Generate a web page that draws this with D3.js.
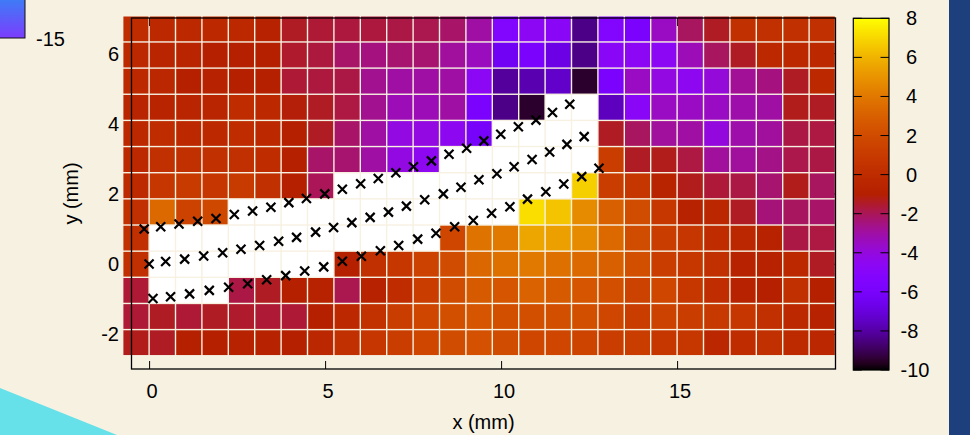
<!DOCTYPE html>
<html>
<head>
<meta charset="utf-8">
<script src="https://cdn.jsdelivr.net/npm/d3@7"></script>
<style>
  body { margin: 0; background: #f7f1e2; }
  svg text { font-family: "Liberation Sans", Arial, Helvetica, sans-serif; font-size: 20px; fill: #000; }
</style>
</head>
<body>
<div id="chart"></div>
<script>
// cell centres (mm)
var xCenters = [-0.375, 0.375, 1.125, 1.875, 2.625, 3.375, 4.125, 4.875, 5.625, 6.375, 7.125, 7.875, 8.625, 9.375,
  10.125, 10.875, 11.625, 12.375, 13.125, 13.875, 14.625, 15.375, 16.125, 16.875, 17.625, 18.375, 19.125]
var yCenters = [6.69, 5.945, 5.2, 4.455, 3.71, 2.965, 2.22, 1.475, 0.73, -0.015, -0.76, -1.505, -2.25]
var cellW = 0.75
var cellH = 0.745

// field values, top row first, null = no data
var values = [
  [0, -0.2, -0.2, -0.2, -0.2, -0.7, -1.4, -1.6, -1.7, -1.7, -1.8, -1.9, -2.2, -3.0, -5.3, -4.6, -4.8, -8.4, -5.3, -5.8, -3.5, -2.1, -1.4, 0.3, 0.3, 0.3, 0.3],
  [-0.2, -0.5, -0.5, -0.9, -1.0, -1.0, -1.5, -1.7, -2.2, -2.5, -2.3, -2.3, -2.9, -3.4, -6.4, -5.8, -6.8, -8.4, -4.8, -4.6, -4.6, -3.3, -2.1, -1.4, -0.2, -0.2, -0.2],
  [-0.2, -0.4, -0.9, -0.7, -1.0, -1.0, -1.6, -1.7, -1.8, -2.7, -3.0, -3.0, -3.0, -4.6, -8.1, -7.8, -7.4, -9.5, -5.8, -3.5, -4.1, -4.5, -3.9, -2.8, -2.5, -1.4, -0.2],
  [-0.5, -0.6, -0.5, -0.5, 0, -0.2, -1.1, -1.4, -1.75, -2.7, -3.3, -3.3, -3.0, -5.8, -8.4, -9.5, null, null, -7.6, -4.8, -3.5, -3.5, -3.5, -3.1, -3.0, -1.3, -1.4],
  [-0.2, 0, -0.2, -0.2, 0, -0.2, -1.0, -1.4, -2.2, -3.0, -4.1, -4.1, -4.5, -6.0, null, null, null, null, -1.4, -2.1, -2.9, -3.0, -4.0, -3.1, -2.9, -1.8, -1.75],
  [-0.2, 0.3, 0.3, 0.3, 0.3, 0, -1.0, -2.2, -2.3, -3.0, -4.1, -4.5, null, null, null, null, null, null, 1.2, -1.4, -1.3, -1.75, -2.9, -2.9, -2.6, -1.85, -1.8],
  [-0.1, 0.7, 1.0, 0.7, 1.0, 0.3, -1.0, -2.0, null, null, null, null, null, null, null, null, null, 6.8, 1.2, 0.7, -0.6, -1.3, -1.65, -1.8, -2.3, -1.3, -2.1],
  [0.3, 3.4, 1.5, 1.8, null, null, null, null, null, null, null, null, null, null, null, 7.2, 6.5, 4.7, 3.0, 2.0, 0.8, -0.7, -0.4, -1.4, -2.4, -2.1, -2.2],
  [0.3, null, null, null, null, null, null, null, null, null, null, null, 1.7, 3.8, 4.0, 5.6, 5.4, 4.7, 3.4, 2.0, 1.2, 0.7, 0, -0.4, -0.7, -1.8, -1.75],
  [0.3, null, null, null, null, null, null, null, -1.0, 0.3, 0.8, 1.5, 2.0, 3.3, 3.7, 4.0, 3.7, 3.4, 3.0, 2.2, 1.2, 0.8, 0.3, -0.7, -0.7, -0.2, -1.4],
  [-1.6, null, null, null, -1.8, -1.4, -1.0, -0.7, -1.9, -0.7, 0, 1.2, 2.0, 2.7, 2.5, 3.1, 2.7, 2.5, 2.2, 1.5, 1.7, 0.8, 0.1, -0.7, -1.0, 0.3, -1.0],
  [-1.6, -1.4, -1.6, -1.4, -1.5, -1.6, -1.6, -1.0, -0.2, 0.4, 1.2, 1.7, 2.2, 2.5, 2.2, 2.2, 2.2, 2.2, 1.7, 1.2, 1.5, 1.2, 0.9, 0.7, 0.3, -0.2, -0.7],
  [-1.3, -1.4, -1.0, -1.0, -0.7, -0.7, -1.0, -0.4, 0.3, 0.7, 1.2, 1.7, 2.0, 2.3, 2.0, 1.7, 1.7, 1.6, 1.2, 1.2, 0.8, 0.8, -0.4, 0, 0.3, -0.1, -0.4]
]

// measured points (mm)
var topX = [-0.14, 0.33, 0.85, 1.38, 1.9, 2.42, 2.94, 3.46, 3.97, 4.47, 4.99, 5.49, 6.01, 6.51, 7.01, 7.51, 8.02, 8.52, 9.02, 9.51, 9.99, 10.49, 10.99, 11.46, 11.95]
var topY = [0.99, 1.05, 1.13, 1.21, 1.29, 1.4, 1.5, 1.61, 1.74, 1.86, 1.99, 2.12, 2.28, 2.43, 2.59, 2.76, 2.93, 3.12, 3.29, 3.5, 3.69, 3.9, 4.09, 4.31, 4.54]
var midX = [0, 0.47, 1.01, 1.55, 2.09, 2.61, 3.14, 3.68, 4.19, 4.73, 5.24, 5.76, 6.28, 6.8, 7.31, 7.83, 8.36, 8.86, 9.37, 9.88, 10.37, 10.88, 11.38, 11.87, 12.36]
var midY = [-0.01, 0.06, 0.13, 0.22, 0.31, 0.41, 0.52, 0.64, 0.75, 0.9, 1.03, 1.17, 1.32, 1.47, 1.64, 1.82, 1.99, 2.18, 2.39, 2.56, 2.76, 2.97, 3.18, 3.4, 3.62]
var botX = [0.11, 0.61, 1.15, 1.71, 2.26, 2.8, 3.34, 3.88, 4.42, 4.96, 5.49, 6.03, 6.57, 7.09, 7.63, 8.15, 8.68, 9.21, 9.73, 10.25, 10.75, 11.27, 11.78, 12.29, 12.78]
var botY = [-0.99, -0.94, -0.86, -0.76, -0.67, -0.57, -0.46, -0.34, -0.21, -0.09, 0.07, 0.21, 0.37, 0.52, 0.7, 0.87, 1.05, 1.23, 1.44, 1.62, 1.84, 2.05, 2.27, 2.48, 2.72]

var xTicks = [0, 5, 10, 15]
var yTicks = [-2, 0, 2, 4, 6]
var cbTicks = [-10, -8, -6, -4, -2, 0, 2, 4, 6, 8]

var width = 970
var height = 435
var plot = { left: 131.5, right: 835.5, top: 18, bottom: 369 }

var svg = d3.select('#chart')
  .append('svg')
  .attr('width', width)
  .attr('height', height)

svg.append('rect').attr('width', width).attr('height', height).attr('fill', '#f7f1e2')

// gnuplot default palette (rgbformulae 7,5,15)
function palette (t) {
  var r = Math.sqrt(t)
  var g = Math.pow(t, 3)
  var b = Math.max(0, Math.sin(2 * Math.PI * t))
  return d3.rgb(r * 255, g * 255, b * 255).toString()
}

var x = d3.scaleLinear().domain([-0.5, 19.5]).range([plot.left, plot.right])
var y = d3.scaleLinear().domain([-3, 7]).range([plot.bottom, plot.top])
var color = d3.scaleSequential(palette).domain([-10, 8])

// page decorations around the figure
svg.append('path')
  .attr('d', 'M0,388L117,435L0,435Z')
  .attr('fill', '#67e1e9')
svg.append('rect')
  .attr('x', 949).attr('y', 0)
  .attr('width', 21).attr('height', height)
  .attr('fill', '#1d3f7b')

var defs = svg.append('defs')
var oldGrad = defs.append('linearGradient')
  .attr('id', 'old-grad')
  .attr('x1', 0).attr('y1', 0).attr('x2', 0).attr('y2', 1)
oldGrad.append('stop').attr('offset', 0).attr('stop-color', '#3c7ef6')
oldGrad.append('stop').attr('offset', 1).attr('stop-color', '#7b3dfd')
svg.append('rect')
  .attr('x', -2).attr('y', -2)
  .attr('width', 27).attr('height', 40)
  .attr('fill', 'url(#old-grad)')
  .attr('stroke', '#111')
svg.append('text').attr('x', 36).attr('y', 46).text('-15')

// ticks sit under the image, only the gaps let them through
var xAxis = svg.append('g')
  .attr('transform', `translate(0,${plot.bottom})`)
  .call(d3.axisBottom(x).tickValues(xTicks).tickFormat(String).tickSizeInner(-8).tickSizeOuter(0).tickPadding(15))
svg.append('g')
  .attr('transform', `translate(0,${plot.top})`)
  .call(d3.axisTop(x).tickValues(xTicks).tickSizeInner(-8).tickSizeOuter(0).tickFormat(''))
var yAxis = svg.append('g')
  .attr('transform', `translate(${plot.left},0)`)
  .call(d3.axisLeft(y).tickValues(yTicks).tickFormat(String).tickSizeInner(-8).tickSizeOuter(0).tickPadding(12.5))
svg.append('g')
  .attr('transform', `translate(${plot.right},0)`)
  .call(d3.axisRight(y).tickValues(yTicks).tickSizeInner(-8).tickSizeOuter(0).tickFormat(''))

svg.selectAll('.domain').remove()
svg.selectAll('.tick line').attr('stroke', '#000')
svg.selectAll('.tick text').attr('font-size', null).attr('font-family', null)
xAxis.selectAll('text').attr('dx', 2.5)
yAxis.selectAll('text').attr('dy', '0.35em')

// heat map cells
var cells = []
values.forEach((row, r) => {
  row.forEach((v, c) => {
    cells.push({ cx: xCenters[c], cy: yCenters[r], v: v })
  })
})

var gap = 1.4
svg.append('g')
  .attr('class', 'cells')
  .selectAll('rect')
  .data(cells)
  .enter()
  .append('rect')
  .attr('x', d => x(d.cx - cellW / 2) + gap / 2)
  .attr('y', d => y(d.cy + cellH / 2) + gap / 2)
  .attr('width', d => x(d.cx + cellW / 2) - x(d.cx - cellW / 2) - gap)
  .attr('height', d => y(d.cy - cellH / 2) - y(d.cy + cellH / 2) - gap)
  .attr('fill', d => d.v === null ? '#ffffff' : color(d.v))

// frame
svg.append('rect')
  .attr('x', plot.left).attr('y', plot.top)
  .attr('width', plot.right - plot.left)
  .attr('height', plot.bottom - plot.top)
  .attr('fill', 'none')
  .attr('stroke', '#000')
  .attr('stroke-width', 1.3)

// cross markers for the three lines
var points = []
;[[topX, topY], [midX, midY], [botX, botY]].forEach(s => {
  s[0].forEach((px, i) => points.push([px, s[1][i]]))
})
svg.append('g')
  .attr('class', 'markers')
  .selectAll('path')
  .data(points)
  .enter()
  .append('path')
  .attr('transform', d => `translate(${x(d[0])},${y(d[1])})`)
  .attr('d', 'M-4.5,-4.5L4.5,4.5M-4.5,4.5L4.5,-4.5')
  .attr('stroke', '#000')
  .attr('stroke-width', 2.2)
  .attr('fill', 'none')

// axis titles
svg.append('text')
  .attr('x', (plot.left + plot.right) / 2)
  .attr('y', 429)
  .attr('text-anchor', 'middle')
  .text('x (mm)')
svg.append('text')
  .attr('transform', `translate(77.5,${(plot.top + plot.bottom) / 2}) rotate(-90)`)
  .attr('text-anchor', 'middle')
  .text('y (mm)')

// colour box
var cb = { x: 853.3, w: 35.7, top: 18.3, bottom: 370 }
var cbScale = d3.scaleLinear().domain([-10, 8]).range([cb.bottom, cb.top])
var cbGrad = defs.append('linearGradient')
  .attr('id', 'cb-grad')
  .attr('x1', 0).attr('y1', 1).attr('x2', 0).attr('y2', 0)
cbGrad.selectAll('stop')
  .data(d3.range(0, 1.0001, 0.02))
  .enter()
  .append('stop')
  .attr('offset', d => d)
  .attr('stop-color', d => palette(d))

svg.append('rect')
  .attr('x', cb.x).attr('y', cb.top)
  .attr('width', cb.w).attr('height', cb.bottom - cb.top)
  .attr('fill', 'url(#cb-grad)')

var cbTickG = svg.append('g').attr('class', 'cb-ticks')
cbTickG.selectAll('line.l')
  .data(cbTicks)
  .enter()
  .append('line')
  .attr('class', 'l')
  .attr('x1', cb.x).attr('x2', cb.x + 8.5)
  .attr('y1', d => cbScale(d)).attr('y2', d => cbScale(d))
  .attr('stroke', '#000')
cbTickG.selectAll('line.r')
  .data(cbTicks)
  .enter()
  .append('line')
  .attr('class', 'r')
  .attr('x1', cb.x + cb.w - 8.5).attr('x2', cb.x + cb.w)
  .attr('y1', d => cbScale(d)).attr('y2', d => cbScale(d))
  .attr('stroke', '#000')

svg.append('rect')
  .attr('x', cb.x).attr('y', cb.top)
  .attr('width', cb.w).attr('height', cb.bottom - cb.top)
  .attr('fill', 'none')
  .attr('stroke', '#000')
  .attr('stroke-width', 1.2)

// labels keep a sign slot, so positive ones start a space later
svg.append('g')
  .selectAll('text')
  .data(cbTicks)
  .enter()
  .append('text')
  .attr('x', d => d < 0 ? 900.5 : 906)
  .attr('y', d => cbScale(d))
  .attr('dy', '0.35em')
  .text(d => d)
</script>
</body>
</html>
